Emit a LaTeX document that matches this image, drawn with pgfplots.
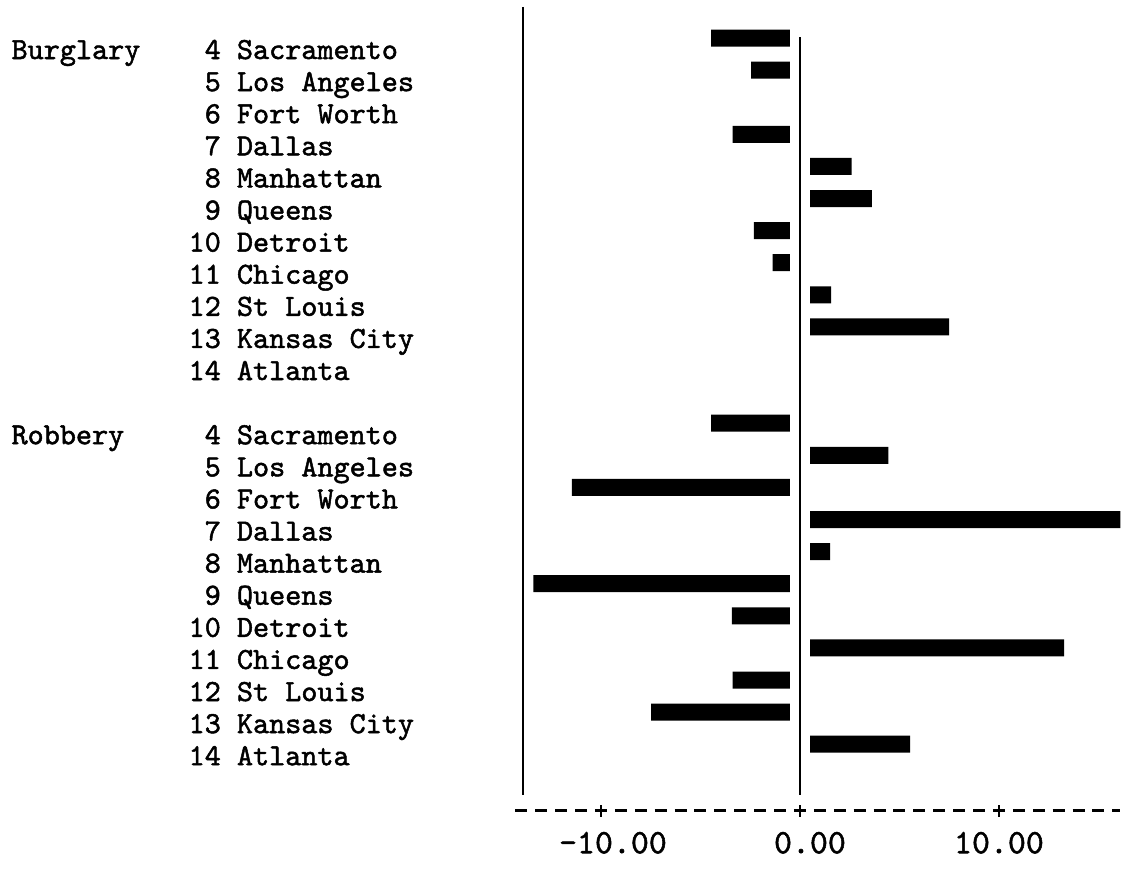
\documentclass[border=0pt]{standalone}
\usepackage{fontspec}
\usepackage{pgfplots}
\usepackage{pgfplotstable}
\pgfplotsset{compat=1.18}
\newfontfamily\tw{lmmono10-regular.otf}[FakeBold=1.6]
\newcommand\lab[3]{\rlap{#1}\makebox[104.65pt][r]{#2}\hspace*{8.05pt}\makebox[88.55pt][l]{#3}}
\pgfplotstableread{
row val
0 -4.46
-1 -2.45
-2 0
-3 -3.38
-4 2.59
-5 3.62
-6 -2.31
-7 -1.37
-8 1.56
-9 7.49
-10 0
}\burglary
\pgfplotstableread{
row val
-12 -4.46
-13 4.44
-14 -11.46
-15 16.14
-16 1.51
-17 -13.39
-18 -3.42
-19 13.27
-20 -3.38
-21 -7.48
-22 5.53
}\robbery
\begin{document}
\begin{tikzpicture}
\path[use as bounding box] (-257.7pt,-29.6pt) rectangle (305.3pt,405.4pt);
\begin{axis}[
  at={(0pt,0pt)}, anchor=south west,
  scale only axis, width=302.48pt, height=402.855pt,
  xmin=-14.3, xmax=16.1, ymin=-23.7, ymax=1.4,
  axis x line*=bottom, axis y line*=left,
  x axis line style={line width=1.4pt, dash pattern=on 6pt off 3.95pt},
  y axis line style={draw=none},
  xtick={-10,0,10},
  xticklabels={\kern12pt-10.00, \kern10pt0.00, 10.00},
  xtick align=center, major tick length=6pt,
  xtick style={line width=1.3pt, black},
  xticklabel style={font=\tw\fontsize{17.1pt}{17.1pt}\selectfont, anchor=center, yshift=-13pt},
  ytick={-22,-21,-20,-19,-18,-17,-16,-15,-14,-13,-12,-10,-9,-8,-7,-6,-5,-4,-3,-2,-1,0},
  yticklabels={
    {\lab{}{14}{Atlanta}},
    {\lab{}{13}{Kansas City}},
    {\lab{}{12}{St Louis}},
    {\lab{}{11}{Chicago}},
    {\lab{}{10}{Detroit}},
    {\lab{}{9}{Queens}},
    {\lab{}{8}{Manhattan}},
    {\lab{}{7}{Dallas}},
    {\lab{}{6}{Fort Worth}},
    {\lab{}{5}{Los Angeles}},
    {\lab{Robbery}{4}{Sacramento}},
    {\lab{}{14}{Atlanta}},
    {\lab{}{13}{Kansas City}},
    {\lab{}{12}{St Louis}},
    {\lab{}{11}{Chicago}},
    {\lab{}{10}{Detroit}},
    {\lab{}{9}{Queens}},
    {\lab{}{8}{Manhattan}},
    {\lab{}{7}{Dallas}},
    {\lab{}{6}{Fort Worth}},
    {\lab{}{5}{Los Angeles}},
    {\lab{Burglary}{4}{Sacramento}}},
  ytick style={draw=none},
  yticklabel style={font=\tw\fontsize{15.33pt}{15.33pt}\selectfont, anchor=base east, inner sep=0pt, xshift=-50.46pt, yshift=-4.5pt},
]
\addplot[xbar, bar width=8.5pt, bar shift=6pt, fill=black, draw=none] table[x=val, y=row] {\burglary};
\addplot[xbar, bar width=8.5pt, bar shift=6pt, fill=black, draw=none] table[x=val, y=row] {\robbery};
\fill[white] (axis cs:-0.5,1.4) rectangle (axis cs:0.5,-23.3);
\draw[line width=1pt] (axis cs:0,0.405) -- (axis cs:0,-23.21);
\draw[line width=1.1pt] (axis cs:-13.92,1.34) -- (axis cs:-13.92,-23.21);
\end{axis}
\end{tikzpicture}
\end{document}
